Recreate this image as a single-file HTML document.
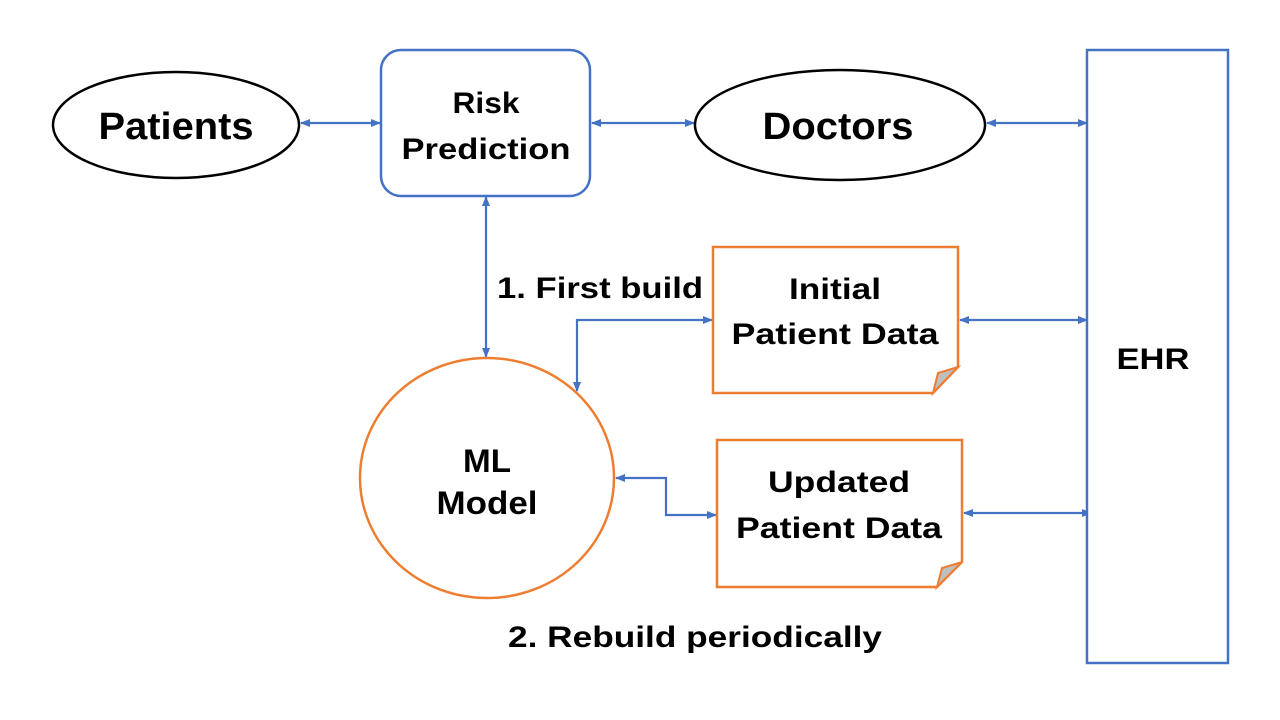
<!DOCTYPE html>
<html><head><style>
html,body{margin:0;padding:0;background:#fff;}
svg{display:block}
text{font-family:"Liberation Sans",sans-serif;font-weight:bold;fill:#000;text-anchor:middle}
</style></head><body>
<svg width="1280" height="720" viewBox="0 0 1280 720" xmlns="http://www.w3.org/2000/svg">
<defs>
<marker id="a" markerWidth="10" markerHeight="8" refX="9" refY="4" orient="auto-start-reverse" markerUnits="userSpaceOnUse">
<path d="M0,0 L10,4 L0,8 Z" fill="#4472C4"/>
</marker>
</defs>
<g fill="none" stroke="#4472C4" stroke-width="2.2">
<line x1="301" y1="123" x2="380" y2="123" marker-start="url(#a)" marker-end="url(#a)"/>
<line x1="592" y1="123" x2="694" y2="123" marker-start="url(#a)" marker-end="url(#a)"/>
<line x1="987" y1="123" x2="1087" y2="123" marker-start="url(#a)" marker-end="url(#a)"/>
<line x1="486" y1="197" x2="486" y2="357" marker-start="url(#a)" marker-end="url(#a)"/>
<polyline points="712,320 577,320 577,391" marker-start="url(#a)" marker-end="url(#a)"/>
<line x1="960" y1="320" x2="1087" y2="320" marker-start="url(#a)" marker-end="url(#a)"/>
<polyline points="616,478 666,478 666,515 716,515" marker-start="url(#a)" marker-end="url(#a)"/>
<line x1="964" y1="513" x2="1091" y2="513" marker-start="url(#a)" marker-end="url(#a)"/>
</g>
<ellipse cx="176" cy="125" rx="123" ry="53" fill="#fff" stroke="#000" stroke-width="2.5"/>
<ellipse cx="840" cy="125" rx="145" ry="55" fill="#fff" stroke="#000" stroke-width="2.5"/>
<rect x="381" y="50" width="209" height="146" rx="20" fill="#fff" stroke="#4472C4" stroke-width="2.5"/>
<rect x="1087" y="50" width="141" height="613" fill="#fff" stroke="#4472C4" stroke-width="2.5"/>
<ellipse cx="487" cy="478" rx="127" ry="120" fill="#fff" stroke="#ED7D31" stroke-width="2.5"/>
<path d="M713,247 H958 V367 L933,393 H713 Z" fill="#fff" stroke="#ED7D31" stroke-width="2.5"/>
<path d="M958,367 L938,373 L933,393 Z" fill="#bfbfbf" stroke="#ED7D31" stroke-width="2"/>
<path d="M717,440 H962 V562 L937,587 H717 Z" fill="#fff" stroke="#ED7D31" stroke-width="2.5"/>
<path d="M962,562 L942,568 L937,587 Z" fill="#bfbfbf" stroke="#ED7D31" stroke-width="2"/>
<text x="176" y="139" font-size="38" textLength="155" lengthAdjust="spacingAndGlyphs">Patients</text>
<text x="838" y="139" font-size="38" textLength="151" lengthAdjust="spacingAndGlyphs">Doctors</text>
<text x="486" y="113" font-size="30" textLength="67" lengthAdjust="spacingAndGlyphs">Risk</text>
<text x="486" y="159" font-size="30" textLength="169" lengthAdjust="spacingAndGlyphs">Prediction</text>
<text x="1153" y="369" font-size="30" textLength="73" lengthAdjust="spacingAndGlyphs">EHR</text>
<text x="487" y="472" font-size="32" textLength="48" lengthAdjust="spacingAndGlyphs">ML</text>
<text x="487" y="514" font-size="32" textLength="101" lengthAdjust="spacingAndGlyphs">Model</text>
<text x="835" y="299" font-size="30" textLength="92" lengthAdjust="spacingAndGlyphs">Initial</text>
<text x="835" y="344" font-size="30" textLength="207" lengthAdjust="spacingAndGlyphs">Patient Data</text>
<text x="839" y="492" font-size="30" textLength="142" lengthAdjust="spacingAndGlyphs">Updated</text>
<text x="839" y="538" font-size="30" textLength="206" lengthAdjust="spacingAndGlyphs">Patient Data</text>
<text x="600" y="298" font-size="30" textLength="206" lengthAdjust="spacingAndGlyphs">1. First build</text>
<text x="695" y="647" font-size="30" textLength="374" lengthAdjust="spacingAndGlyphs">2. Rebuild periodically</text>
</svg>
</body></html>
